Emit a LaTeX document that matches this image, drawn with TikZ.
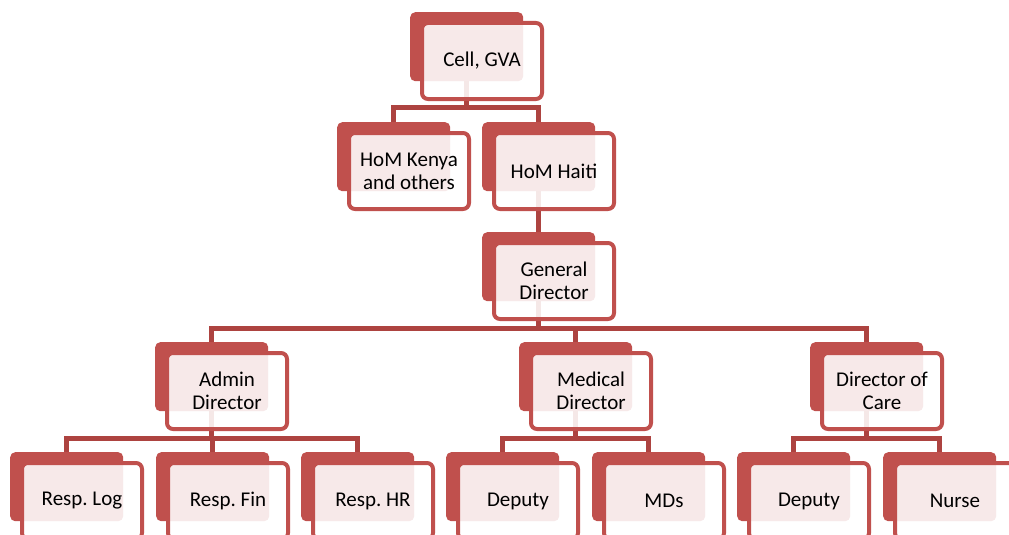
\documentclass[tikz,border=0pt]{standalone}
\usepackage{fontspec}
\setmainfont{Carlito}
\frenchspacing
\definecolor{boxred}{HTML}{C0504D}
\definecolor{linered}{HTML}{AD4340}
\tikzset{
    boxback/.style={fill=boxred, rounded corners=5pt, minimum width=113pt,
        minimum height=69pt, inner sep=0pt, anchor=north west},
    boxfront/.style={draw=boxred, line width=4pt, fill=white, fill opacity=0.88,
        text opacity=1, rounded corners=6pt, minimum width=120pt, minimum height=76pt,
        inner sep=0pt, align=center, font=\fontsize{21}{23}\selectfont, anchor=north west},
    conn/.style={draw=linered, line width=5.5pt}
}
\begin{document}
\begin{tikzpicture}[x=1pt,y=-1pt]
    \useasboundingbox (0,0) rectangle (1009,535);
    \foreach \name/\x/\y in {cell/410/12, kenya/337/122, haiti/482/122, gendir/482/232,
        admin/155/342, medical/519/342, care/810/342,
        log/10/452, fin/156/452, hr/301/452, depmed/446/452, mds/592/452,
        depcare/737/452, nurse/883/452}
    {
        \node[boxback] (\name) at (\x,\y) {};
    }
    % connectors
    \foreach \c in {kenya,haiti}
        \draw[conn] (cell.south) -- ++(0,26) -| (\c.north);
    \draw[conn] (haiti.south) -- (gendir.north);
    \foreach \c in {admin,medical,care}
        \draw[conn] (gendir.south) -- ++(0,27) -| (\c.north);
    \foreach \c in {log,fin,hr}
        \draw[conn] (admin.south) -- ++(0,27) -| (\c.north);
    \foreach \c in {depmed,mds}
        \draw[conn] (medical.south) -- ++(0,27) -| (\c.north);
    \foreach \c in {depcare,nurse}
        \draw[conn] (care.south) -- ++(0,27) -| (\c.north);
    % front boxes with text
    \foreach \name/\txt in {cell/{Cell, GVA}, kenya/{HoM Kenya\\and others}, haiti/{HoM Haiti},
        gendir/{General\\Director}, admin/{Admin\\Director}, medical/{Medical\\Director},
        care/{Director of\\Care}, log/{Resp. Log}, fin/{Resp. Fin}, hr/{Resp. HR},
        depmed/{Deputy}, mds/{MDs}, depcare/{Deputy}, nurse/{Nurse}}
    {
        \node[boxfront] (\name-f) at ([xshift=10pt,yshift=-9pt]\name.north west) {\txt};
    }
\end{tikzpicture}
\end{document}
